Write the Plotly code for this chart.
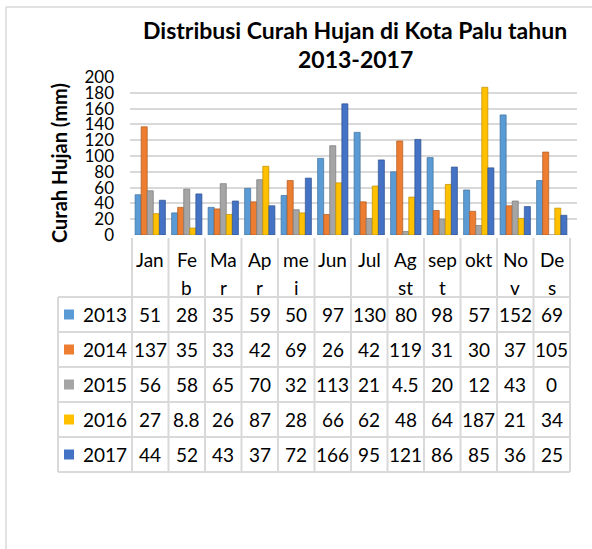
import plotly.graph_objects as go

# ---------------- data ----------------
months = ["Jan", "Feb", "Mar", "Apr", "mei", "Jun", "Jul", "Agst", "sept", "okt", "Nov", "Des"]
month_lines = [["Jan"], ["Fe", "b"], ["Ma", "r"], ["Ap", "r"], ["me", "i"], ["Jun"], ["Jul"],
               ["Ag", "st"], ["sep", "t"], ["okt"], ["No", "v"], ["De", "s"]]
years = ["2013", "2014", "2015", "2016", "2017"]
v2013 = [51, 28, 35, 59, 50, 97, 130, 80, 98, 57, 152, 69]
v2014 = [137, 35, 33, 42, 69, 26, 42, 119, 31, 30, 37, 105]
v2015 = [56, 58, 65, 70, 32, 113, 21, 4.5, 20, 12, 43, 0]
v2016 = [27, 8.8, 26, 87, 28, 66, 62, 48, 64, 187, 21, 34]
v2017 = [44, 52, 43, 37, 72, 166, 95, 121, 86, 85, 36, 25]
series = [v2013, v2014, v2015, v2016, v2017]
colors = ["#5B9BD5", "#ED7D31", "#A5A5A5", "#FFC000", "#4472C4"]
edge_colors = ["#41719C", "#AE5A21", "#787878", "#BC8C00", "#2F528F"]
y_ticks = list(range(0, 201, 20))
title_lines = ["Distribusi Curah Hujan di Kota Palu tahun", "2013-2017"]
y_title = "Curah Hujan (mm)"

# ---------------- layout helpers (pixels -> paper) ----------------
W, H = 592, 549
FONT = "Lato"


def px(x):
    return x / W


def py(y):
    return 1 - y / H


col_left = 132.0
col_w = 36.5
n = len(months)
table_left = 58.0
header_top = 238.0
row_top0 = 297.0
row_h = 35.0
grid_left, grid_right = 130.0, 577.0
plot_top, plot_bottom = 77.0, 235.0

fig = go.Figure()
for name, vals, c, ec in zip(years, series, colors, edge_colors):
    fig.add_trace(go.Bar(x=months, y=vals, name=name,
                         marker=dict(color=c, line=dict(width=0.7, color=ec))))

x_lo = -0.5 - (col_left - grid_left) / col_w
x_hi = n - 0.5 + (grid_right - (col_left + n * col_w)) / col_w

shapes = []
annotations = []
line_col = "#D9D9D9"

# outer chart border (left and top edges visible)
shapes.append(dict(type="line", xref="paper", yref="paper", x0=px(6), x1=px(6),
                   y0=0, y1=py(7), line=dict(color="#D9D9D9", width=1.5)))
shapes.append(dict(type="line", xref="paper", yref="paper", x0=px(6), x1=1,
                   y0=py(7), y1=py(7), line=dict(color="#D9D9D9", width=1.5)))

# table vertical lines
for i in range(n + 1):
    x = col_left + i * col_w
    shapes.append(dict(type="line", xref="paper", yref="paper", x0=px(x), x1=px(x),
                       y0=py(header_top), y1=py(row_top0 + len(years) * row_h),
                       line=dict(color=line_col, width=2)))
# left border of legend column
shapes.append(dict(type="line", xref="paper", yref="paper", x0=px(table_left), x1=px(table_left),
                   y0=py(row_top0), y1=py(row_top0 + len(years) * row_h),
                   line=dict(color=line_col, width=2)))
# horizontal lines
for k in range(len(years) + 1):
    y = row_top0 + k * row_h
    shapes.append(dict(type="line", xref="paper", yref="paper", x0=px(table_left),
                       x1=px(col_left + n * col_w), y0=py(y), y1=py(y),
                       line=dict(color=line_col, width=2)))

fs = 19
# header labels
for i, lines in enumerate(month_lines):
    xc = col_left + (i + 0.5) * col_w
    for j, t in enumerate(lines):
        annotations.append(dict(text=t, xref="paper", yref="paper", x=px(xc), y=py(260 + j * 27),
                                xanchor="center", yanchor="middle", showarrow=False,
                                font=dict(family=FONT, size=fs, color="#000")))

# data rows
for k, (name, vals, c) in enumerate(zip(years, series, colors)):
    yc = row_top0 + (k + 0.5) * row_h
    shapes.append(dict(type="rect", xref="paper", yref="paper", x0=px(64), x1=px(74),
                       y0=py(yc + 5), y1=py(yc - 5), fillcolor=c, line=dict(width=0)))
    annotations.append(dict(text=name, xref="paper", yref="paper", x=px(81), y=py(yc),
                            xanchor="left", yanchor="middle", showarrow=False,
                            font=dict(family=FONT, size=fs, color="#000")))
    for i, v in enumerate(vals):
        xc = col_left + (i + 0.5) * col_w
        annotations.append(dict(text=f"{v:g}", xref="paper", yref="paper", x=px(xc), y=py(yc),
                                xanchor="center", yanchor="middle", showarrow=False,
                                font=dict(family=FONT, size=fs, color="#000")))

# title
for j, t in enumerate(title_lines):
    annotations.append(dict(text=f"<b>{t}</b>", xref="paper", yref="paper", x=px(355), y=py(30 + j * 29),
                            xanchor="center", yanchor="middle", showarrow=False,
                            font=dict(family=FONT, size=23, color="#000")))
# y title
annotations.append(dict(text=f"<b>{y_title}</b>", xref="paper", yref="paper", x=px(59), y=py(163),
                        xanchor="center", yanchor="middle", showarrow=False, textangle=-90,
                        font=dict(family=FONT, size=20, color="#000")))

fig.update_layout(
    template="none",
    width=W, height=H, autosize=False,
    margin=dict(l=0, r=0, t=0, b=0, pad=0, autoexpand=False),
    paper_bgcolor="white", plot_bgcolor="white",
    barmode="group", bargap=0.17, bargroupgap=0.0,
    showlegend=False,
    shapes=shapes, annotations=annotations,
    xaxis=dict(domain=[px(grid_left), px(grid_right)], range=[x_lo, x_hi], automargin=False,
               showticklabels=False, showgrid=False, zeroline=False, showline=False, ticks=""),
    yaxis=dict(domain=[py(plot_bottom), py(plot_top)], range=[0, 200], tickvals=y_ticks,
               automargin=False,
               showgrid=True, gridcolor="#D9D9D9", gridwidth=2, zeroline=False, showline=False,
               ticks="", ticklabelstandoff=15,
               tickfont=dict(family=FONT, size=17, color="#000")),
)

fig.write_html("out.html", config={"displayModeBar": False},
               post_script="document.body.style.margin='0';document.body.style.overflow='hidden';")
